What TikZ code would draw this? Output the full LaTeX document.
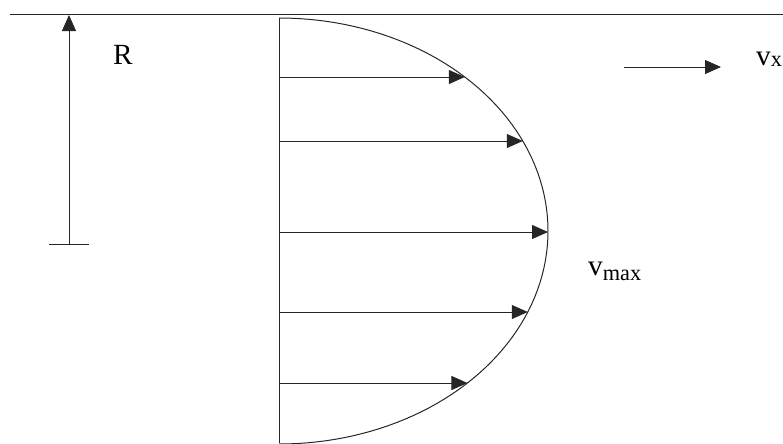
\documentclass[tikz,border=0pt]{standalone}
\usepackage{fontspec}
\setmainfont{Liberation Serif}
\usetikzlibrary{arrows.meta, calc}

\begin{document}
\begin{tikzpicture}[
                    x=0.03cm, y=-0.03cm,
                    wall/.style={line width=0.85pt, draw=black!85},
                    vec/.style={wall, -{Triangle[length=0.48cm, width=0.42cm]}},
                    lbl/.style={font=\fontsize{25}{28}\selectfont, inner sep=0pt}
                ]
                    \useasboundingbox (0,0) rectangle (783,443);

                    % pipe wall and axis
                    \coordinate (wl) at (10,14);
                    \coordinate (wr) at (783,14);
                    \coordinate (top) at (279,18);
                    \coordinate (bot) at (279,443);
                    \draw[wall] (wl) -- (wr);
                    \draw[wall] (top) -- (bot);

                    % velocity profile
                    \draw[wall] plot[domain=-90:90, samples=91] ({279+269*cos(\x)}, {231+213*sin(\x)});
                    \foreach \y/\n in {77/a, 141/b, 232/c, 312/d, 383/e} {
                        \coordinate (s\n) at (279,\y);
                        \coordinate (t\n) at ({279+269*sqrt(1-((\y-231)/213)^2)},\y);
                        \draw[vec] (s\n) -- (t\n);
                    }

                    % radius
                    \coordinate (rbase) at (69,244);
                    \coordinate (rtip) at (69,15);
                    \coordinate (rl) at (49,244);
                    \coordinate (rr) at (89,244);
                    \draw[vec] (rbase) -- (rtip);
                    \draw[wall] (rl) -- (rr);
                    \node[lbl, anchor=base west] (rlab) at (113,64) {R};

                    % flow direction
                    \coordinate (fa) at (624,67);
                    \coordinate (fb) at (721,67);
                    \draw[vec] (fa) -- (fb);
                    \node[lbl, anchor=base west] (vx) at (756,65) {v\raisebox{-1.5pt}{\fontsize{19}{22}\selectfont x}};

                    \node[lbl, anchor=base west] (vmax) at (588,275) {v\raisebox{-4.5pt}{\fontsize{19}{22}\selectfont max}};
                \end{tikzpicture}
\end{document}
